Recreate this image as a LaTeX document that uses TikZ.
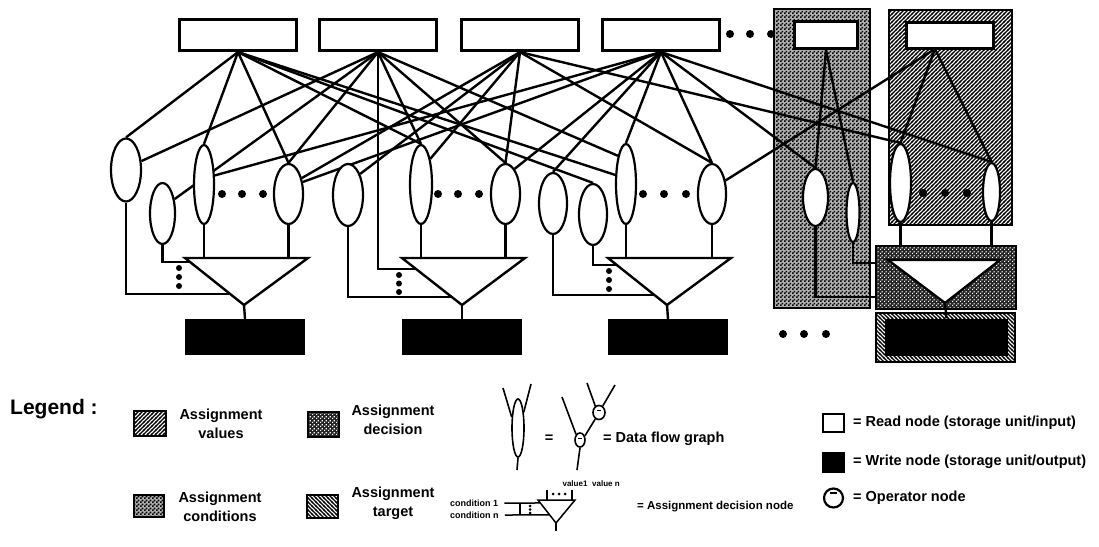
\documentclass[tikz,border=0pt]{standalone}
\usepackage{fontspec}
\setmainfont{Liberation Sans}
\usetikzlibrary{patterns,shapes.geometric,calc}

% fill textures for the assignment regions
\pgfdeclarepatternformonly{checker}{\pgfqpoint{0pt}{0pt}}{\pgfqpoint{4pt}{4pt}}{\pgfqpoint{4pt}{4pt}}{%
  \pgfpathrectangle{\pgfqpoint{0pt}{0pt}}{\pgfqpoint{2pt}{2pt}}%
  \pgfpathrectangle{\pgfqpoint{2pt}{2pt}}{\pgfqpoint{2pt}{2pt}}%
  \pgfusepath{fill}}
\pgfdeclarepatternformonly{pinholes}{\pgfqpoint{0pt}{0pt}}{\pgfqpoint{4pt}{4pt}}{\pgfqpoint{4pt}{4pt}}{%
  \pgfpathrectangle{\pgfqpoint{0pt}{0pt}}{\pgfqpoint{1.4pt}{1.4pt}}%
  \pgfpathrectangle{\pgfqpoint{2pt}{2pt}}{\pgfqpoint{1.4pt}{1.4pt}}%
  \pgfusepath{fill}}
\pgfdeclarepatternformonly{nestripes}{\pgfqpoint{-1pt}{-1pt}}{\pgfqpoint{5pt}{5pt}}{\pgfqpoint{4pt}{4pt}}{%
  \pgfsetlinewidth{1.1pt}%
  \pgfpathmoveto{\pgfqpoint{-1pt}{-1pt}}\pgfpathlineto{\pgfqpoint{5pt}{5pt}}%
  \pgfusepath{stroke}}
\pgfdeclarepatternformonly{nwstripes}{\pgfqpoint{-1pt}{-1pt}}{\pgfqpoint{5pt}{5pt}}{\pgfqpoint{4pt}{4pt}}{%
  \pgfsetlinewidth{1.1pt}%
  \pgfpathmoveto{\pgfqpoint{-1pt}{5pt}}\pgfpathlineto{\pgfqpoint{5pt}{-1pt}}%
  \pgfusepath{stroke}}

\pgfdeclarelayer{panels}
\pgfdeclarelayer{wires}
\pgfsetlayers{panels,wires,main}

\begin{document}
\begin{tikzpicture}[x=1pt,y=-1pt,
  rd/.style={draw,line width=3.2pt,fill=white,inner sep=0pt},
  wr/.style={fill=black,inner sep=0pt},
  ell/.style={ellipse,draw,line width=2.2pt,fill=white,inner sep=0pt},
  wire/.style={line width=2.4pt},
  dec/.style={draw,line width=2.4pt,fill=white,line join=miter},
  bigdot/.style={circle,fill=black,inner sep=0pt,minimum size=8pt},
  smalldot/.style={circle,fill=black,inner sep=0pt,minimum size=6pt},
  tinydot/.style={circle,fill=black,inner sep=0pt,minimum size=3pt},
  frame/.style={draw,line width=1.6pt},
  swatch/.style={draw,line width=1.5pt},
  lab/.style={font=\bfseries\fontsize{14.5}{19}\selectfont,inner sep=0pt},
  small/.style={font=\bfseries\fontsize{11.5}{13}\selectfont,inner sep=0pt},
  tiny/.style={font=\bfseries\fontsize{8}{9}\selectfont,inner sep=0pt},
  condfill/.style={fill=black!30},
]
\useasboundingbox (0,0) rectangle (1099,546);

% ---------- shaded regions behind the graph ----------
\begin{pgfonlayer}{panels}
  \fill[condfill] (774,9) rectangle (870,308);
  \fill[pattern=checker] (774,9) rectangle (870,308);
  \draw[frame] (774,9) rectangle (870,308);
  \fill[pattern=nestripes] (889,10) rectangle (1012,225);
  \draw[frame] (889,10) rectangle (1012,225);
\end{pgfonlayer}

% ---------- read nodes ----------
\node[rd,minimum width=117pt,minimum height=31pt] (R1) at (238,35) {};
\node[rd,minimum width=117pt,minimum height=31pt] (R2) at (378,35) {};
\node[rd,minimum width=117pt,minimum height=31pt] (R3) at (520,35) {};
\node[rd,minimum width=117pt,minimum height=31pt] (R4) at (661,35) {};
\node[rd,minimum width=63pt,minimum height=27pt] (R5) at (826,35) {};
\node[rd,minimum width=87pt,minimum height=26pt] (R6) at (950,35.5) {};
\coordinate (R6s) at (935,49);
\node[bigdot] (td1) at (730,34) {};
\node[bigdot] (td2) at (750,34) {};
\node[bigdot] (td3) at (771,34) {};

% ---------- data flow graphs ----------
\node[ell,minimum width=30pt,minimum height=63pt] (E1a) at (126,170) {};
\node[ell,minimum width=25pt,minimum height=61pt] (E1b) at (162.5,213.5) {};
\node[ell,minimum width=20pt,minimum height=79pt] (E1c) at (204,184.5) {};
\node[ell,minimum width=29pt,minimum height=60pt] (E1d) at (288.5,194) {};
\node[ell,minimum width=30pt,minimum height=62pt] (E2a) at (348,195) {};
\node[ell,minimum width=22pt,minimum height=79pt] (E2c) at (421,184.5) {};
\node[ell,minimum width=29pt,minimum height=60pt] (E2d) at (505.5,194) {};
\node[ell,minimum width=28pt,minimum height=61pt] (E3a) at (553,203.5) {};
\node[ell,minimum width=28pt,minimum height=61pt] (E3b) at (593,214.5) {};
\node[ell,minimum width=20pt,minimum height=80pt] (E3c) at (626,184) {};
\node[ell,minimum width=28pt,minimum height=60pt] (E3d) at (712,194) {};
\node[ell,minimum width=25pt,minimum height=57pt] (E4a) at (815.5,197.5) {};
\node[ell,minimum width=13pt,minimum height=59pt] (E4b) at (853,212.5) {};
\node[ell,minimum width=21pt,minimum height=78pt] (E5a) at (900.5,183) {};
\node[ell,minimum width=17pt,minimum height=58pt] (E5d) at (991.5,192) {};

\node[bigdot] (g1a) at (222,194) {};
\node[bigdot] (g1b) at (242,194) {};
\node[bigdot] (g1c) at (263,194) {};
\node[bigdot] (g2a) at (438,194) {};
\node[bigdot] (g2b) at (458,194) {};
\node[bigdot] (g2c) at (479,194) {};
\node[bigdot] (g3a) at (643,194) {};
\node[bigdot] (g3b) at (664,194) {};
\node[bigdot] (g3c) at (686,194) {};
\node[bigdot] (g5a) at (923,193) {};
\node[bigdot] (g5b) at (945,193) {};
\node[bigdot] (g5c) at (967,193) {};

% ---------- decision node corners ----------
\coordinate (T1l) at (185,258); \coordinate (T1r) at (308,258); \coordinate (T1a) at (244,305);
\coordinate (T2l) at (402,258); \coordinate (T2r) at (525,258); \coordinate (T2a) at (462,305);
\coordinate (T3l) at (608,258); \coordinate (T3r) at (731,258); \coordinate (T3a) at (667,305);
\coordinate (T4l) at (888,260); \coordinate (T4r) at (1000,260); \coordinate (T4a) at (945,303);
\coordinate (T1c1) at ($(T1l)!0.085!(T1a)$);
\coordinate (T1c2) at ($(T1l)!0.766!(T1a)$);
\coordinate (T2c1) at ($(T2l)!0.234!(T2a)$);
\coordinate (T2c2) at ($(T2l)!0.83!(T2a)$);
\coordinate (T3c1) at ($(T3l)!0.149!(T3a)$);
\coordinate (T3c2) at ($(T3l)!0.787!(T3a)$);
\coordinate (T4c1) at ($(T4l)!0.07!(T4a)$);
\coordinate (T4c2) at ($(T4l)!0.86!(T4a)$);

% ---------- connectors ----------
\begin{pgfonlayer}{wires}
  \foreach \t in {E1a.north,E1c.north,E1d.north,E2c.north,E3b.north,E3c.140}
    \draw[wire] (R1.south) -- (\t);
  \foreach \t in {E1a.30,E1d.north,E2c.north,E2d.north,E3c.106}
    \draw[wire] (R2.south) -- (\t);
  \draw[wire] (E1b.50) -- (R2.south);
  \foreach \t in {E1d.50,E2a.60,E2c.70,E2d.north,E3d.north,E5a.north}
    \draw[wire] (R3.south) -- (\t);
  \foreach \t in {E1c.40,E1d.40,E2d.70,E3a.north,E3c.north,E3d.north,E4a.north,E5d.north}
    \draw[wire] (R4.south) -- (\t);
  \foreach \t in {E4a.north,E4b.north}
    \draw[wire] (R5.south) -- (\t);
  \foreach \t in {E5a.north,E5d.north,E3d.45}
    \draw[wire] (R6s) -- (\t);

  % value and condition inputs of the decision nodes
  \draw[wire] (E1a.south) |- (T1c2);
  \draw[wire] (E1b.south) |- (T1c1);
  \draw[wire] (E1c.south) -- (E1c.south |- T1l);
  \draw[wire] (E1d.south) -- (E1d.south |- T1l);
  \draw[wire] (R2.south) |- (T2c1);
  \draw[wire] (E2a.south) |- (T2c2);
  \draw[wire] (E2c.south) -- (E2c.south |- T2l);
  \draw[wire] (E2d.south) -- (E2d.south |- T2l);
  \draw[wire] (E3b.south) |- (T3c1);
  \draw[wire] (E3a.south) |- (T3c2);
  \draw[wire] (E3c.south) -- (E3c.south |- T3l);
  \draw[wire] (E3d.south) -- (E3d.south |- T3l);
  \draw[wire] (E4b.south) |- (T4c1);
  \draw[wire] (E4a.south) |- (T4c2);
  \draw[wire] (E5a.south) -- (E5a.south |- T4l);
  \draw[wire] (E5d.south) -- (E5d.south |- T4l);
\end{pgfonlayer}

% ---------- decision nodes ----------
\draw[dec] (T1l) -- (T1r) -- (T1a) -- cycle;
\draw[dec] (T2l) -- (T2r) -- (T2a) -- cycle;
\draw[dec] (T3l) -- (T3r) -- (T3a) -- cycle;
\node[smalldot] (v1a) at (179,268) {};
\node[smalldot] (v1b) at (179,277) {};
\node[smalldot] (v1c) at (179,286) {};
\node[smalldot] (v2a) at (399,275) {};
\node[smalldot] (v2b) at (399,283.5) {};
\node[smalldot] (v2c) at (399,292) {};
\node[smalldot] (v3a) at (609,271) {};
\node[smalldot] (v3b) at (609,280) {};
\node[smalldot] (v3c) at (609,289) {};

% decision region and target region of the last assignment
\fill[black!85] (876,246) rectangle (1016,309);
\fill[pattern=pinholes,pattern color=white] (876,246) rectangle (1016,309);
\draw[frame] (876,246) rectangle (1016,309);
\draw[dec] (T4l) -- (T4r) -- (T4a) -- cycle;
\fill[pattern=nwstripes] (876,313) rectangle (1015,362);
\draw[frame] (876,313) rectangle (1015,362);

% ---------- write nodes ----------
\node[wr,minimum width=120pt,minimum height=36pt] (W1) at (245,337) {};
\node[wr,minimum width=120pt,minimum height=36pt] (W2) at (462,337) {};
\node[wr,minimum width=120pt,minimum height=36pt] (W3) at (668,337) {};
\node[wr,minimum width=123pt,minimum height=37pt] (W4) at (946.5,337) {};
\draw[wire] (T1a) -- (W1.north);
\draw[wire] (T2a) -- (W2.north);
\draw[wire] (T3a) -- (W3.north);
\draw[wire] (T4a) -- (W4.north);
\node[bigdot] (bd1) at (783,334) {};
\node[bigdot] (bd2) at (804,334) {};
\node[bigdot] (bd3) at (826,334) {};

% ---------- legend ----------
\node[font=\bfseries\fontsize{21}{24}\selectfont,inner sep=0pt,anchor=west] (lg) at (10,409) {Legend :};

\fill[pattern=nestripes] (134,411) rectangle (166,436);
\draw[swatch] (134,411) rectangle (166,436);
\node[lab,align=center] (lv) at (221,424) {Assignment\\values};
\fill[black!85] (308,412) rectangle (339,437);
\fill[pattern=pinholes,pattern color=white] (308,412) rectangle (339,437);
\draw[swatch] (308,412) rectangle (339,437);
\node[lab,align=center] (ld) at (393,420) {Assignment\\decision};
\fill[condfill] (134,495) rectangle (164,517);
\fill[pattern=checker] (134,495) rectangle (164,517);
\draw[swatch] (134,495) rectangle (164,517);
\node[lab,align=center] (lc) at (220,507) {Assignment\\conditions};
\fill[pattern=nwstripes] (307,495) rectangle (338,518);
\draw[swatch] (307,495) rectangle (338,518);
\node[lab,align=center] (lt) at (393,503) {Assignment\\target};

% data flow graph symbol
\node[draw,ellipse,line width=1.6pt,inner sep=0pt,minimum width=12pt,minimum height=58pt] (sg) at (518,428) {};
\coordinate (sgl) at (503,388);
\coordinate (sgr) at (531,384);
\coordinate (sgb) at (517,470);
\draw[line width=1.6pt] (sg.120) -- (sgl);
\draw[line width=1.6pt] (sg.70) -- (sgr);
\draw[line width=1.6pt] (sg.south) -- (sgb);
\node[lab] (eq1) at (549,439) {=};
\node[draw,ellipse,line width=1.6pt,inner sep=0pt,minimum width=10pt,minimum height=14pt] (op1) at (580,440) {};
\node[draw,ellipse,line width=1.6pt,inner sep=0pt,minimum width=12pt,minimum height=14pt] (op2) at (599,412.5) {};
\coordinate (op1in) at (562,397);
\coordinate (op1out) at (577,470);
\coordinate (op2a) at (587,383);
\coordinate (op2b) at (615,385);
\draw[line width=1.6pt] (op1.125) -- (op1in);
\draw[line width=1.6pt] (op1.40) -- (op2.240);
\draw[line width=1.6pt] (op2.120) -- (op2a);
\draw[line width=1.6pt] (op2.60) -- (op2b);
\draw[line width=1.6pt] (op1.south) -- (op1out);
\draw[line width=1pt] (578,438) -- (582,438);
\draw[line width=1pt] (597,410) -- (601,410);
\node[lab,anchor=west] (dfg) at (603,439) {= Data flow graph};

% assignment decision node symbol
\node[tiny] (val1) at (575,484) {value1};
\node[tiny] (valn) at (606,484) {value n};
\coordinate (sTl) at (538,500); \coordinate (sTr) at (575,500); \coordinate (sTa) at (556,523);
\coordinate (sTb) at (556,531);
\draw[line width=1.5pt,line join=miter] (sTl) -- (sTr) -- (sTa) -- cycle;
\draw[line width=1.5pt] (sTa) -- (sTb);
\draw[line width=1.5pt] (547,490) -- (547,500);
\draw[line width=1.5pt] (572,490) -- (572,500);
\node[tinydot] (sv1) at (553,494) {};
\node[tinydot] (sv2) at (559,494) {};
\node[tinydot] (sv3) at (565,494) {};
\node[font=\bfseries\fontsize{9}{10}\selectfont,inner sep=0pt,anchor=west] (cnd1) at (450,503) {condition 1};
\node[font=\bfseries\fontsize{9}{10}\selectfont,inner sep=0pt,anchor=west] (cndn) at (450,515) {condition n};
\coordinate (sc1) at ($(sTl)!0.13!(sTa)$);
\coordinate (sc2) at ($(sTl)!0.65!(sTa)$);
\draw[line width=1.5pt] (cnd1.east) ++(6,0) -- (sc1);
\draw[line width=1.5pt] (520,503) -- (520,515);
\draw[line width=1.5pt] (cndn.east) ++(6,0) -- (sc2);
\node[tinydot] (sd1) at (530,506) {};
\node[tinydot] (sd2) at (530,509.5) {};
\node[tinydot] (sd3) at (530,513) {};
\node[small,anchor=west] (adn) at (637,507) {= Assignment decision node};

% node kinds
\node[draw,line width=2.2pt,inner sep=0pt,minimum width=21pt,minimum height=18pt] (kr) at (833.5,423) {};
\node[lab,anchor=west] (krt) at (853,423) {= Read node (storage unit/input)};
\node[fill=black,inner sep=0pt,minimum width=23pt,minimum height=21pt] (kw) at (833.5,462.5) {};
\node[lab,anchor=west] (kwt) at (853,462) {= Write node (storage unit/output)};
\node[draw,circle,line width=2.2pt,inner sep=0pt,minimum size=19pt] (ko) at (833.5,498) {};
\draw[line width=1.6pt] (830,493) -- (837,493);
\node[lab,anchor=west] (kot) at (853,498) {= Operator node};

\end{tikzpicture}
\end{document}
